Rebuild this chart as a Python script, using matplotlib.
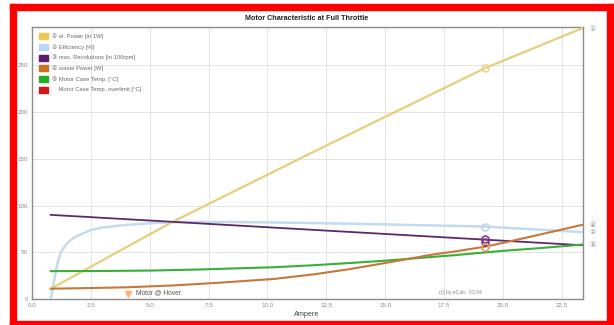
import matplotlib
matplotlib.use("Agg")
import matplotlib.pyplot as plt
from matplotlib.patches import Rectangle
import numpy as np

FONT = ['Liberation Sans', 'DejaVu Sans', 'Noto Sans CJK SC']
plt.rcParams['font.family'] = FONT

# ---- data ----
title = "Motor Characteristic at Full Throttle"
xlabel = "Ampere"
legend_labels = ["\u2460 el. Power [in 1W]", "\u2461 Efficiency [%]",
                 "\u2462 max. Revolutions [in 100rpm]", "\u2463 waste Power [W]",
                 "\u2464 Motor Case Temp. [\u00b0C]", "    Motor Case Temp. overlimit [\u00b0C]"]
colors = ["#f0c850", "#b9d7ee", "#5b1c6b", "#c8741e", "#22b022", "#d01818"]
line_colors = ["#e6cf7c", "#c2dbee", "#5b2a6a", "#c6783a", "#3aae3a"]

power_x = [0.8, 5.93, 12.0, 19.24, 23.4]
power_y = [11, 82, 158, 247, 290]

eff_x = [0.8, 0.9, 1.0, 1.08, 1.22, 1.5, 1.8, 2.5, 3.0, 3.9, 5.0, 5.85, 7.0, 8.0, 10.0, 12.0, 13.5, 16.0, 18.0, 19.24, 21.7, 23.4]
eff_y = [0, 14, 28, 38, 50, 60, 66, 74, 76.5, 79, 81, 82, 82.5, 82.4, 82, 81.2, 80.6, 79.2, 78.2, 77.5, 74, 71.5]

rev_x = [0.8, 23.4]
rev_y = [90, 57.5]

waste_x = [0.8, 2.0, 4.0, 5.0, 6.0, 8.0, 10.3, 12.0, 13.5, 15.0, 16.0, 17.0, 18.0, 19.24, 20.0, 21.7, 23.4]
waste_y = [11, 11.5, 12.5, 13.5, 14.5, 17.5, 21.5, 26.5, 32, 38.5, 43, 47.5, 51, 56, 60, 69.7, 79.5]

temp_x = [0.8, 3.0, 5.0, 7.0, 10.3, 12.0, 13.5, 15.0, 16.0, 18.0, 19.3, 20.0, 21.7, 23.4]
temp_y = [29.8, 30.0, 30.4, 31.5, 34, 36.2, 38.5, 41, 43, 47, 50, 51.5, 54.7, 58.3]

op_x = 19.24
op_power, op_eff, op_rev, op_rev2, op_waste = 247, 77.5, 63.8, 61.5, 55.5

hover_x, hover_y = 4.07, 5.4
hover_label = "Motor @ Hover"
credit = "(c) by eCalc  V2.04"

xticks = [0.0, 2.5, 5.0, 7.5, 10.0, 12.5, 15.0, 17.5, 20.0, 22.5]
yticks = [0, 50, 100, 150, 200, 250]

right_labels = [("\u2460", 289), ("\u2463", 79), ("\u2461", 71.5), ("\u2464", 57.5)]

# ---- figure ----
W, H = 614, 325
fig = plt.figure(figsize=(W / 100, H / 100), dpi=100)
fig.patch.set_facecolor("white")

def px(x, y):  # pixel (from top-left) -> figure fraction
    return x / W, 1 - y / H

# red frame (pixel boxes: x0, y0 from top, w, h)
for (x0, y0, w, h) in [(10, 4, 604, 6), (10, 321, 604, 4), (10, 4, 6, 321), (607, 4, 7, 321)]:
    fig.patches.append(Rectangle((x0 / W, 1 - (y0 + h) / H), w / W, h / H,
                                 transform=fig.transFigure, color="#ff0000", zorder=0))

L, T, R, B = 32, 27, 583, 299
ax = fig.add_axes([L / W, 1 - B / H, (R - L) / W, (B - T) / H])
ax.set_xlim(0, 23.4)
ax.set_ylim(0, 291)
ax.set_xticks(xticks)
ax.set_yticks(yticks)
ax.set_xticklabels([f"{v:.1f}" for v in xticks])
ax.set_yticklabels([str(v) for v in yticks])
ax.tick_params(axis='both', length=0, labelsize=4.5, colors="#8a8a8a", pad=3)
ax.grid(True, color="#e4e4e4", linewidth=0.7)
ax.set_axisbelow(True)
for s in ax.spines.values():
    s.set_color("#8c8c8c")
    s.set_linewidth(1.0)

ax.plot(eff_x, eff_y, color=line_colors[1], lw=1.8, solid_capstyle='round', zorder=3)
ax.plot(power_x, power_y, color=line_colors[0], lw=1.6, zorder=3)
ax.plot(rev_x, rev_y, color=line_colors[2], lw=1.3, zorder=4)
ax.plot(temp_x, temp_y, color=line_colors[4], lw=1.5, zorder=4)
ax.plot(waste_x, waste_y, color=line_colors[3], lw=1.5, zorder=5)

ms = dict(marker='o', ms=5, mfc='none', mew=1.2, ls='none', zorder=6)
ax.plot([op_x], [op_power], mec="#ecd590", **ms)
ax.plot([op_x], [op_eff], mec="#bcd6ea", **ms)
ax.plot([op_x], [op_rev], mec="#7a3c8a", **ms)
ax.plot([op_x], [op_rev2], mec="#7a3c8a", **ms)
ax.plot([op_x], [op_waste], mec="#e0a060", **ms)

ax.plot([hover_x], [hover_y], marker='v', ms=5, color="#f5b57a", ls='none', zorder=6)
ax.text(hover_x + 0.35, hover_y + 1, hover_label, fontsize=4.8, color="#555555",
        va='center', ha='left', zorder=7)
ax.text(17.3, 7, credit, fontsize=3.6, color="#888888", va='center', ha='left')

for lab, yv in right_labels:
    ax.text(1.012, yv / 291, lab, transform=ax.transAxes, fontsize=5,
            color="#8a8a8a", va='center', ha='left', family=['DejaVu Sans', 'Noto Sans CJK SC'])

# legend (manual)
for i, (lab, c) in enumerate(zip(legend_labels, colors)):
    yc = 36 + i * 10.8
    x0, y0 = px(38.5, yc + 3)
    fig.patches.append(Rectangle((x0, y0), 9.5 / W, 6 / H, transform=fig.transFigure,
                                 color=c, zorder=5))
    fig.text(51.5 / W, 1 - yc / H, lab, fontsize=4.2, color="#6a6a6a", va='center', ha='left',
             family=FONT)

fig.text(0.5, 1 - 18.5 / H, title, fontsize=5.2, fontweight='bold', ha='center', va='center',
         color="#222222")
fig.text(307 / W, 1 - 314.5 / H, xlabel, fontsize=5.2, ha='center', va='center', color="#444444")

fig.savefig("out.png", dpi=100)
